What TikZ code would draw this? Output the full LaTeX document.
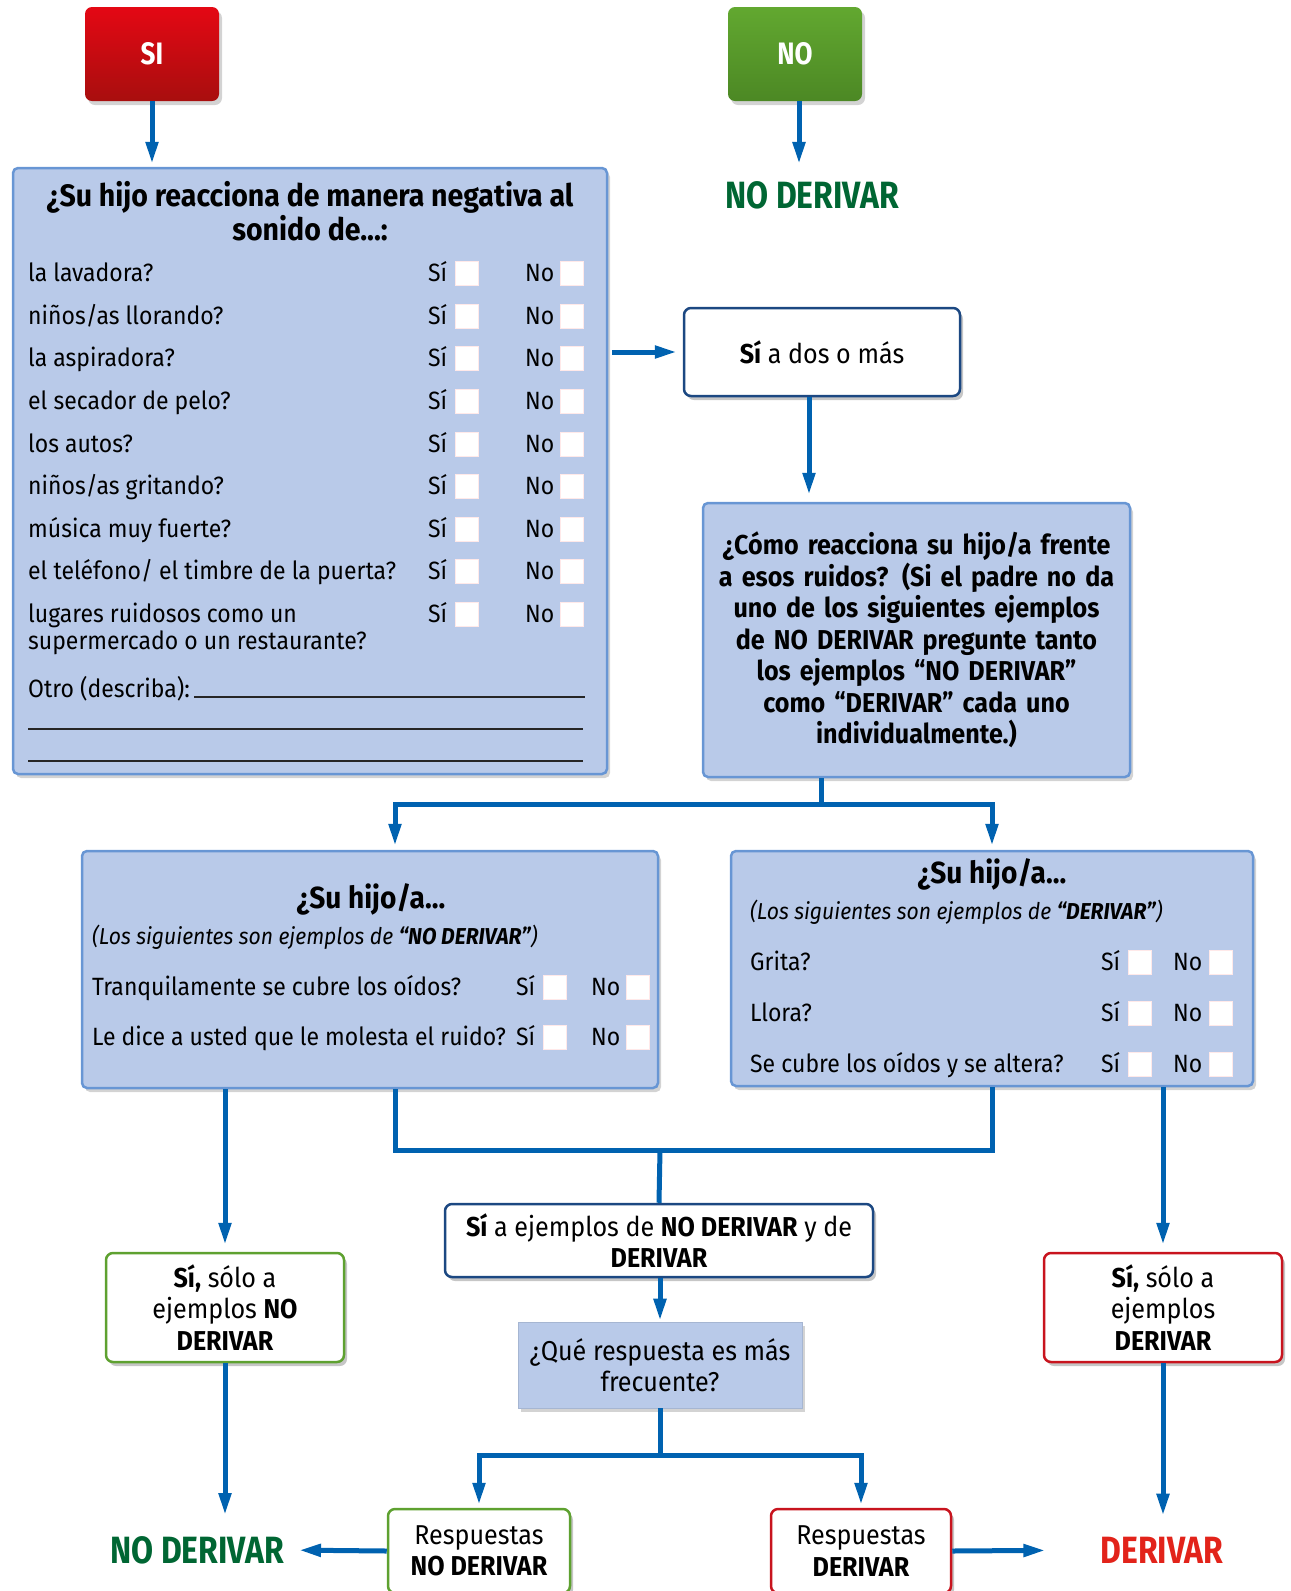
\documentclass[tikz,border=0pt]{standalone}
\usepackage{fontspec}
\setmainfont[FakeStretch=0.92]{Fira Sans}
\newfontfamily\condfont[FakeStretch=0.84]{Fira Sans}
\usetikzlibrary{positioning, calc, arrows.meta, shadows}

\definecolor{flowblue}{RGB}{0,98,176}
\definecolor{qfill}{RGB}{185,202,233}
\definecolor{qedge}{RGB}{104,150,212}
\definecolor{navy}{RGB}{28,72,130}
\definecolor{okgreen}{RGB}{94,161,48}
\definecolor{badred}{RGB}{200,20,30}
\definecolor{nogreen}{RGB}{0,102,51}
\definecolor{yesred}{RGB}{226,35,26}
\definecolor{sitop}{RGB}{228,8,20}
\definecolor{sibot}{RGB}{168,14,14}
\definecolor{notop}{RGB}{98,168,48}
\definecolor{nobot}{RGB}{76,136,36}

\newcommand{\txtbody}{\fontsize{25}{27.5}\selectfont}
\newcommand{\txtmid}{\fontsize{27.3}{31.5}\selectfont}
\newcommand{\txthead}{\fontsize{31}{34}\selectfont\bfseries}
\newcommand{\txtsub}{\fontsize{23}{26}\selectfont\itshape}

\tikzset{
  % Start buttons and end labels
  startbox/.style = { rounded corners=7pt, minimum width=134pt, minimum height=94pt,
                      text=white, font=\condfont\fontsize{31}{36}\selectfont\bfseries,
                      drop shadow={shadow xshift=3pt, shadow yshift=-4pt, opacity=0.35} },
  endlabel/.style = { font=\condfont\fontsize{38}{44}\selectfont\bfseries, inner sep=0 },
  % Question boxes
  qbox/.style     = { draw=qedge, fill=qfill, line width=2.5pt, rounded corners=5pt,
                      drop shadow={shadow xshift=3pt, shadow yshift=-4pt, opacity=0.35} },
  qplain/.style   = { fill=qfill, draw=qfill!90!black, line width=0.6pt,
                      drop shadow={shadow xshift=3pt, shadow yshift=-4pt, opacity=0.35} },
  answerbox/.style= { draw=#1, fill=white, line width=2.5pt, rounded corners=7pt,
                      align=center, font=\txtmid,
                      drop shadow={shadow xshift=3pt, shadow yshift=-4pt, opacity=0.45} },
  rowtxt/.style   = { anchor=west, inner sep=0, text height=0.72em, text depth=0.22em,
                      yshift=-6pt, font=\txtbody },
  subtxt/.style   = { anchor=west, inner sep=0, font=\txtsub },
  chkbox/.style   = { draw=pink!35!white, fill=white, line width=0.8pt,
                      minimum width=23pt, minimum height=24pt, inner sep=0 },
  writeline/.style= { line width=1.3pt, black!85 },
  % Connectors
  flow/.style     = { line width=5pt, draw=flowblue,
                      -{Triangle[length=22pt, width=12pt]} },
  flowline/.style = { line width=5pt, draw=flowblue }
}

\begin{document}
\begin{tikzpicture}[x=1pt, y=-1pt]
  \useasboundingbox (0,0) rectangle (1291,1591);

  % --- Start: SI / NO -----------------------------------------------
  \node[startbox, top color=sitop, bottom color=sibot] (si) at (152,54) {SI};
  \node[startbox, top color=notop, bottom color=nobot] (no) at (795,54) {NO};
  \node[endlabel, text=nogreen] (nod1) at (812,195) {NO DERIVAR};

  % --- First questionnaire ------------------------------------------
  \node[qbox, minimum width=594pt, minimum height=606pt] (q1) at (310,471) {};
  \node[font=\txthead, align=center] (q1t) at (310,211)
    {¿Su hijo reacciona de manera negativa al\\sonido de...:};

  \foreach \i/\y/\txt in {1/273/{la lavadora?}, 2/316/{niños/as llorando?},
      3/358/{la aspiradora?}, 4/401/{el secador de pelo?}, 5/444/{los autos?},
      6/486/{niños/as gritando?}, 7/529/{música muy fuerte?},
      8/571/{el teléfono/ el timbre de la puerta?}, 9/614/{lugares ruidosos como un}} {
    \node[rowtxt] (q1r\i)  at (28,\y)  {\txt};
    \node[rowtxt] (q1si\i) at (428,\y) {Sí};
    \node[chkbox] (q1bs\i) at (467,\y) {};
    \node[rowtxt] (q1no\i) at (525,\y) {No};
    \node[chkbox] (q1bn\i) at (572,\y) {};
  }
  \node[rowtxt] (q1r9b) at (28,641) {supermercado o un restaurante?};

  \node[rowtxt] (otro) at (28,689) {Otro (describa):};
  \draw[writeline] (194,697) -- (585,697);
  \draw[writeline] (28,729) -- (583,729);
  \draw[writeline] (28,761) -- (583,761);

  % --- Two or more yes ----------------------------------------------
  \node[answerbox=navy, minimum width=276pt, minimum height=88pt] (dos) at (822,352)
    {\textbf{Sí} a dos o más};

  \node[qbox, minimum width=427pt, minimum height=274pt, text width=415pt,
        align=center, font=\txtmid\bfseries] (q2) at (916.5,640)
    {¿Cómo reacciona su hijo/a frente\\a esos ruidos? (Si el padre no da\\uno de los siguientes ejemplos\\de NO DERIVAR pregunte tanto\\los ejemplos “NO DERIVAR”\\como “DERIVAR” cada uno\\individualmente.)};

  % --- Examples: NO DERIVAR -----------------------------------------
  \node[qbox, minimum width=576pt, minimum height=237pt] (q3) at (370,969.5) {};
  \node[font=\fontsize{30.5}{34}\selectfont\bfseries] (q3t) at (371,899) {¿Su hijo/a...};
  \node[subtxt] (q3s) at (92,937) {(Los siguientes son ejemplos de \textbf{“NO DERIVAR”})};
  \foreach \i/\y/\txt in {1/987/{Tranquilamente se cubre los oídos?},
      2/1037/{Le dice a usted que le molesta el ruido?}} {
    \node[rowtxt] (q3r\i)  at (92,\y)  {\txt};
    \node[rowtxt] (q3si\i) at (516,\y) {Sí};
    \node[chkbox] (q3bs\i) at (555,\y) {};
    \node[rowtxt] (q3no\i) at (591,\y) {No};
    \node[chkbox] (q3bn\i) at (638,\y) {};
  }

  % --- Examples: DERIVAR --------------------------------------------
  \node[qbox, minimum width=522pt, minimum height=235pt] (q4) at (992,968.5) {};
  \node[font=\fontsize{30.5}{34}\selectfont\bfseries] (q4t) at (992,874) {¿Su hijo/a...};
  \node[subtxt] (q4s) at (750,912) {(Los siguientes son ejemplos de \textbf{“DERIVAR”})};
  \foreach \i/\y/\txt in {1/962/{Grita?}, 2/1013/{Llora?},
      3/1064/{Se cubre los oídos y se altera?}} {
    \node[rowtxt] (q4r\i)  at (750,\y)  {\txt};
    \node[rowtxt] (q4si\i) at (1101,\y) {Sí};
    \node[chkbox] (q4bs\i) at (1140,\y) {};
    \node[rowtxt] (q4no\i) at (1173,\y) {No};
    \node[chkbox] (q4bn\i) at (1221,\y) {};
  }

  % --- Outcomes -----------------------------------------------------
  \node[answerbox=okgreen, minimum width=238pt, minimum height=109pt] (onlyno) at (225,1307.5)
    {\textbf{Sí,} sólo a\\ejemplos \textbf{NO}\\\textbf{DERIVAR}};
  \node[answerbox=badred, minimum width=238pt, minimum height=109pt] (onlyyes) at (1163,1307.5)
    {\textbf{Sí,} sólo a\\ejemplos\\\textbf{DERIVAR}};
  \node[answerbox=navy, minimum width=428pt, minimum height=73pt] (both) at (659,1240.5)
    {\textbf{Sí} a ejemplos de \textbf{NO DERIVAR} y de\\\textbf{DERIVAR}};
  \node[qplain, minimum width=284pt, minimum height=86pt, align=center, font=\txtmid] (freq)
    at (660,1365) {¿Qué respuesta es más\\frecuente?};
  \node[answerbox=okgreen, minimum width=182pt, minimum height=84pt] (respno) at (479,1551)
    {Respuestas\\\textbf{NO DERIVAR}};
  \node[answerbox=badred, minimum width=180pt, minimum height=84pt] (respyes) at (861,1551)
    {Respuestas\\\textbf{DERIVAR}};
  \node[endlabel, text=nogreen] (endno)  at (197,1550) {NO DERIVAR};
  \node[endlabel, text=yesred]  (endyes) at (1162,1550) {DERIVAR};

  % --- Connectors ---------------------------------------------------
  \coordinate (split)  at (821,804);
  \coordinate (merge)  at (660,1150);
  \coordinate (split2) at (660,1455);

  \draw[flow, shorten >=3pt] (si.south) -- (si.south |- q1.north);
  \draw[flow, shorten >=17pt] ([xshift=4pt]no.south) -- ([xshift=4pt]no.south |- nod1.north);
  \draw[flow, shorten <=4pt, shorten >=6pt] (dos.west -| q1.east) -- (dos.west);
  \draw[flow, shorten >=7pt] ([xshift=-13pt]dos.south) -- ([xshift=-13pt]dos.south |- q2.north);

  \draw[flowline] (split |- q2.south) -- (split);
  \draw[flow, shorten >=4pt] (split) -| ([xshift=25pt]q3.north);
  \draw[flow, shorten >=4pt] (split) -| (q4.north);

  \draw[flow, shorten >=7pt] (onlyno.north |- q3.south) -- (onlyno.north);
  \draw[flow, shorten >=7pt] (onlyyes.north |- q4.south) -- (onlyyes.north);
  \draw[flowline] ([xshift=25pt]q3.south) |- (merge) -| (q4.south);
  \draw[flowline] (merge) -- (both.north);

  \draw[flow, shorten >=1pt] (both.south -| freq.north) -- (freq.north);
  \draw[flowline] (freq.south) -- (split2);
  \draw[flow, shorten >=3pt] (split2) -| (respno.north);
  \draw[flow, shorten >=3pt] (split2) -| (respyes.north);

  \draw[flow, shorten >=21pt] (onlyno.south) -- (onlyno.south |- endno.north);
  \draw[flow, shorten >=21pt] (onlyyes.south) -- (onlyyes.south |- endyes.north);
  \draw[flow, shorten >=15pt] (respno.west) -- (endno.east);
  \draw[flow, shorten >=55pt] (respyes.east) -- (endyes.west);

\end{tikzpicture}
\end{document}
